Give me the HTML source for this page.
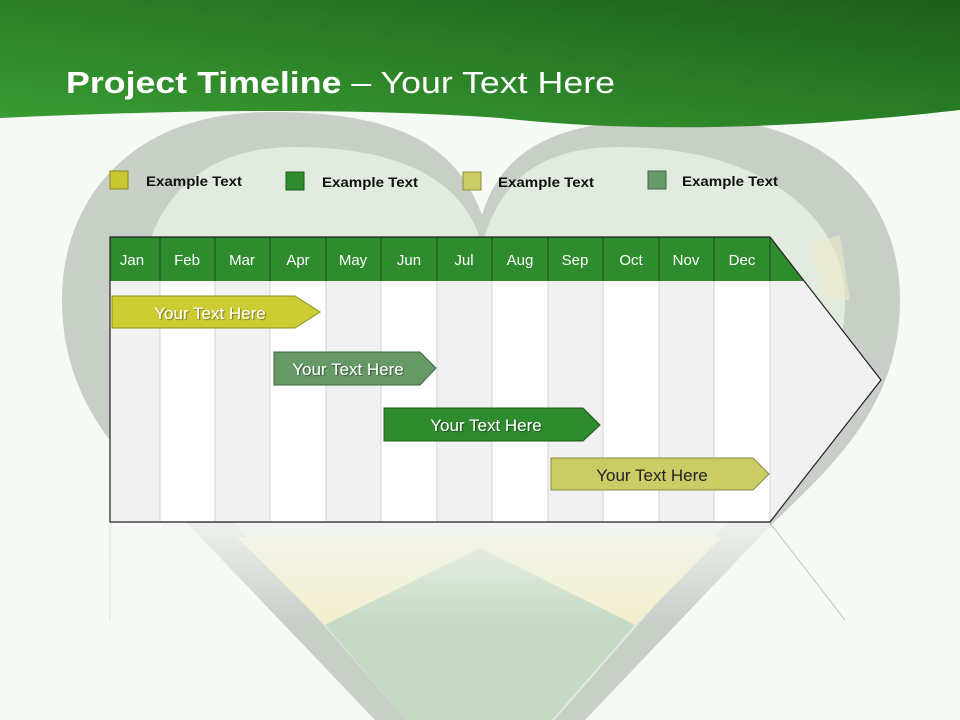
<!DOCTYPE html>
<html><head><meta charset="utf-8"><style>
html,body{margin:0;padding:0;background:#f6faf5;overflow:hidden;}
svg{display:block;}
text{font-family:"Liberation Sans",sans-serif;}
</style></head><body>
<svg width="960" height="720" viewBox="0 0 960 720" xmlns="http://www.w3.org/2000/svg">
<defs>
<linearGradient id="hdr" x1="0" y1="1" x2="1" y2="0">
<stop offset="0" stop-color="#3a9e33"/><stop offset="0.5" stop-color="#2b7f27"/><stop offset="1" stop-color="#1e5e1b"/>
</linearGradient>
<linearGradient id="refl" x1="0" y1="0" x2="0" y2="1">
<stop offset="0" stop-color="#f4f6f3" stop-opacity="0.85"/><stop offset="1" stop-color="#f6faf5" stop-opacity="0"/>
</linearGradient>
<clipPath id="tbl"><polygon points="110,237 770,237 881,380 770,522 110,522"/></clipPath>
<filter id="sh"><feDropShadow dx="1" dy="1" stdDeviation="0.6" flood-color="#000" flood-opacity="0.45"/></filter>
</defs>
<rect width="960" height="720" fill="#f6faf5"/>
<!-- heart -->
<path d="M482,215 C455,140 390,112 270,112 C130,112 62,200 62,300 C62,400 120,460 187,523 L480,830 L773,523 C840,460 900,400 900,300 C900,200 830,118 690,118 C570,118 505,140 482,215 Z" fill="#c8cfc7"/>
<path d="M482,245 C465,180 400,147 294,147 C190,147 141,215 141,300 C141,380 180,460 235,523 L480,805 L727,523 C790,460 845,380 845,300 C845,215 760,147 620,147 C540,147 500,180 482,245 Z" fill="#e2ebe0"/>
<polygon points="237,537 722,537 635,625 480,548 325,625" fill="#f1edcc"/>
<polygon points="480,548 635,625 552,720 406,720 325,625" fill="#c6d9c5"/>
<polygon points="810,245 840,235 850,300 825,300" fill="#ece9c9" opacity="0.6"/>
<!-- header -->
<path d="M0,0 H960 V110 Q700,140 500,118 Q300,104 0,118 Z" fill="url(#hdr)"/>
<text x="66" y="93" fill="#fff" font-size="31" textLength="549" lengthAdjust="spacingAndGlyphs"><tspan font-weight="bold">Project Timeline</tspan> – Your Text Here</text>
<!-- legend -->
<rect x="110" y="171" width="18" height="18" fill="#c8c832" stroke="#8a8a20"/>
<text x="146" y="186" font-size="14" font-weight="bold" fill="#111" textLength="96" lengthAdjust="spacingAndGlyphs">Example Text</text>
<rect x="286" y="172" width="18" height="18" fill="#2e8b2e" stroke="#1c5a1c"/>
<text x="322" y="187" font-size="14" font-weight="bold" fill="#111" textLength="96" lengthAdjust="spacingAndGlyphs">Example Text</text>
<rect x="463" y="172" width="18" height="18" fill="#cccc66" stroke="#8a8a40"/>
<text x="498" y="187" font-size="14" font-weight="bold" fill="#111" textLength="96" lengthAdjust="spacingAndGlyphs">Example Text</text>
<rect x="648" y="171" width="18" height="18" fill="#669966" stroke="#3e6a3e"/>
<text x="682" y="186" font-size="14" font-weight="bold" fill="#111" textLength="96" lengthAdjust="spacingAndGlyphs">Example Text</text>
<!-- reflection -->
<rect x="110" y="523" width="660" height="100" fill="url(#refl)"/>
<line x1="110" y1="523" x2="110" y2="620" stroke="#ccc" stroke-width="1" opacity="0.6"/>
<line x1="770" y1="523" x2="845" y2="620" stroke="#999" stroke-width="1" opacity="0.6"/>
<!-- table -->
<g clip-path="url(#tbl)">
<rect x="110" y="237" width="780" height="290" fill="#f1f1f1"/>
<rect x="160" y="281" width="55" height="242" fill="#fff"/>
<rect x="270" y="281" width="56" height="242" fill="#fff"/>
<rect x="381" y="281" width="56" height="242" fill="#fff"/>
<rect x="492" y="281" width="56" height="242" fill="#fff"/>
<rect x="603" y="281" width="56" height="242" fill="#fff"/>
<rect x="714" y="281" width="56" height="242" fill="#fff"/>
<g stroke="#d3d3d3" stroke-width="1">
<line x1="160" y1="281" x2="160" y2="522"/><line x1="215" y1="281" x2="215" y2="522"/><line x1="270" y1="281" x2="270" y2="522"/><line x1="326" y1="281" x2="326" y2="522"/><line x1="381" y1="281" x2="381" y2="522"/><line x1="437" y1="281" x2="437" y2="522"/><line x1="492" y1="281" x2="492" y2="522"/><line x1="548" y1="281" x2="548" y2="522"/><line x1="603" y1="281" x2="603" y2="522"/><line x1="659" y1="281" x2="659" y2="522"/><line x1="714" y1="281" x2="714" y2="522"/><line x1="770" y1="281" x2="770" y2="522"/>
</g>
<rect x="110" y="237" width="780" height="44" fill="#2e8b2e"/>
<g stroke="#1a4d1a" stroke-width="1">
<line x1="160" y1="237" x2="160" y2="281"/><line x1="215" y1="237" x2="215" y2="281"/><line x1="270" y1="237" x2="270" y2="281"/><line x1="326" y1="237" x2="326" y2="281"/><line x1="381" y1="237" x2="381" y2="281"/><line x1="437" y1="237" x2="437" y2="281"/><line x1="492" y1="237" x2="492" y2="281"/><line x1="548" y1="237" x2="548" y2="281"/><line x1="603" y1="237" x2="603" y2="281"/><line x1="659" y1="237" x2="659" y2="281"/><line x1="714" y1="237" x2="714" y2="281"/><line x1="770" y1="237" x2="770" y2="281"/>
</g>
</g>
<polygon points="110,237 770,237 881,380 770,522 110,522" fill="none" stroke="#222" stroke-width="1.2"/>
<g fill="#fff" font-size="15" text-anchor="middle">
<text x="132" y="265">Jan</text><text x="187" y="265">Feb</text><text x="242" y="265">Mar</text><text x="298" y="265">Apr</text><text x="353" y="265">May</text><text x="409" y="265">Jun</text><text x="464" y="265">Jul</text><text x="520" y="265">Aug</text><text x="575" y="265">Sep</text><text x="631" y="265">Oct</text><text x="686" y="265">Nov</text><text x="742" y="265">Dec</text>
</g>
<!-- bars -->
<polygon points="112,296 295,296 320,312 295,328 112,328" fill="#cccc33" stroke="#8e8e20"/>
<text x="210" y="319" fill="#fff" font-size="17" text-anchor="middle" filter="url(#sh)">Your  Text Here</text>
<polygon points="274,352 420,352 436,368 420,385 274,385" fill="#669966" stroke="#3e6a3e"/>
<text x="348" y="375" fill="#fff" font-size="17" text-anchor="middle" filter="url(#sh)">Your  Text Here</text>
<polygon points="384,408 583,408 600,425 583,441 384,441" fill="#2e8b2e" stroke="#1c5a1c"/>
<text x="486" y="431" fill="#fff" font-size="17" text-anchor="middle" filter="url(#sh)">Your  Text Here</text>
<polygon points="551,458 753,458 769,474 753,490 551,490" fill="#cccc66" stroke="#8a8a40"/>
<text x="652" y="481" fill="#222" font-size="17" text-anchor="middle">Your  Text Here</text>
</svg>
</body></html>
